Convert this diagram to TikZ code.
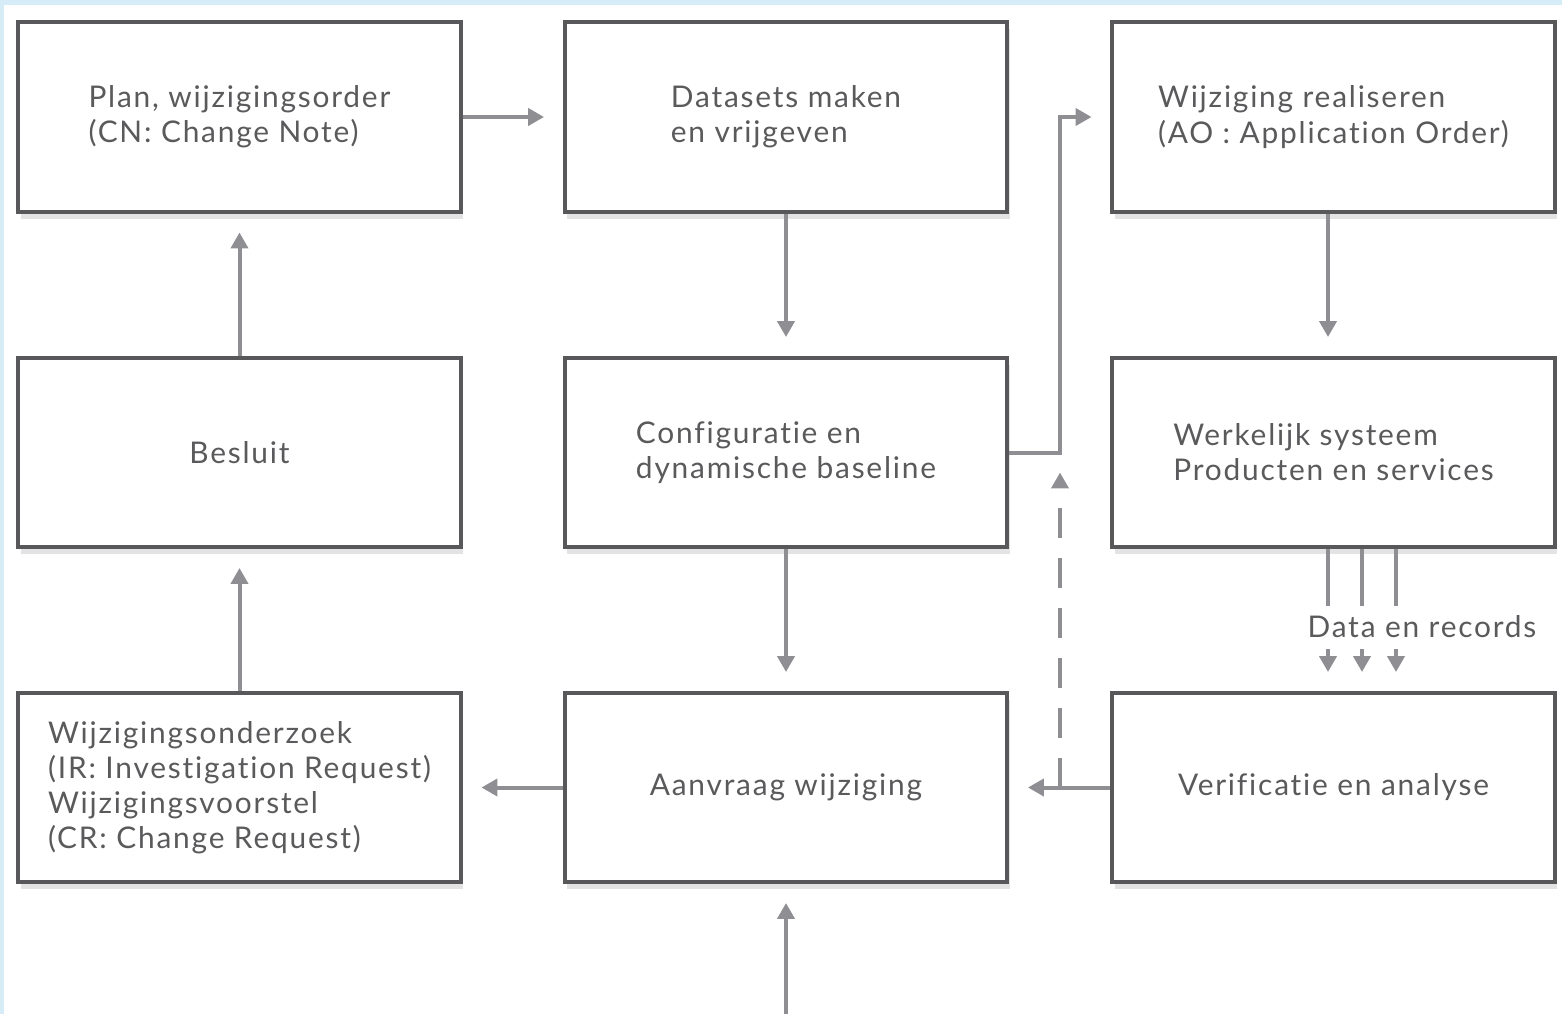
\documentclass[tikz,border=0pt]{standalone}
\usepackage{fontspec}
\setmainfont[LetterSpace=6, Ligatures=NoCommon]{Lato}
\usetikzlibrary{positioning,arrows.meta,shadows}

\definecolor{boxline}{HTML}{58585A}
\definecolor{arrowgray}{HTML}{8E8E93}
\definecolor{textgray}{HTML}{5A5A5C}
\definecolor{bluebg}{HTML}{D6ECF7}

\begin{document}
\begin{tikzpicture}[
    x=0.02cm, y=-0.02cm,
    box/.style={rectangle, draw=boxline, line width=0.08cm, fill=white,
        minimum width=8.86cm, minimum height=3.8cm, align=left,
        text=textgray, font=\fontsize{17}{20}\selectfont,
        drop shadow={shadow xshift=0.05cm, shadow yshift=-0.14cm, opacity=0.22}},
    arrow/.style={draw=arrowgray, line width=0.08cm, -{Triangle[length=0.32cm, width=0.34cm]}, shorten >=0.37cm},
    plainline/.style={draw=arrowgray, line width=0.08cm},
    label/.style={text=textgray, font=\fontsize{17}{20}\selectfont, inner sep=0pt}
]
\useasboundingbox (0,0) rectangle (1562,1014);
\fill[bluebg] (0,0) rectangle (1562,5);
\fill[bluebg] (0,0) rectangle (4,1014);

% Define boxes
\node[box] (plan) at (239.5,117) {Plan, wijzigingsorder\\(CN: Change Note)};
\node[box] (datasets) at (786,117) {Datasets maken\\en vrijgeven};
\node[box] (realiseren) at (1333.5,117) {Wijziging realiseren\\(AO : Application Order)};
\node[box] (besluit) at (239.5,452.5) {Besluit};
\node[box] (config) at (786,452.5) {Configuratie en\\dynamische baseline};
\node[box] (werkelijk) at (1333.5,452.5) {Werkelijk systeem\\Producten en services};
\node[box] (onderzoek) at (239.5,787.5) {Wijzigingsonderzoek\\(IR: Investigation Request)\\Wijzigingsvoorstel\\(CR: Change Request)};
\node[box] (aanvraag) at (786,787.5) {Aanvraag wijziging};
\node[box] (verificatie) at (1333.5,787.5) {Verificatie en analyse};

\coordinate (bend) at (1060,452.5);
\coordinate (dashfoot) at (1060,787.5);
\coordinate (input) at (786,1014);
\node[label] (data) at (1422,627) {Data en records};

% Draw arrows
\draw[arrow] (plan) -- (datasets);
\draw[arrow] (datasets) -- (config);
\draw[arrow] (config.east) -- (bend) |- (realiseren.west);
\draw[arrow] ([xshift=-0.11cm]realiseren.south) -- ([xshift=-0.11cm]werkelijk.north);
\draw[arrow] (besluit) -- (plan);
\draw[arrow] (onderzoek) -- (besluit);
\draw[arrow] (config) -- (aanvraag);
\draw[arrow] (aanvraag) -- (onderzoek);
\draw[arrow] (verificatie) -- (aanvraag);
\draw[arrow] (input) -- (aanvraag);
\draw[arrow, dash pattern=on 0.6cm off 0.4cm, shorten >=0.4cm] (dashfoot) -- (bend);

% Data en records
\foreach \dx in {-5.5,28.5,62.5} {
    \draw[plainline] ([xshift=\dx*0.02cm]werkelijk.south) -- ++(0,57);
    \draw[arrow] ([xshift=\dx*0.02cm, yshift=-2.0cm]werkelijk.south) -- ([xshift=\dx*0.02cm]verificatie.north);
}

\end{tikzpicture}
\end{document}
